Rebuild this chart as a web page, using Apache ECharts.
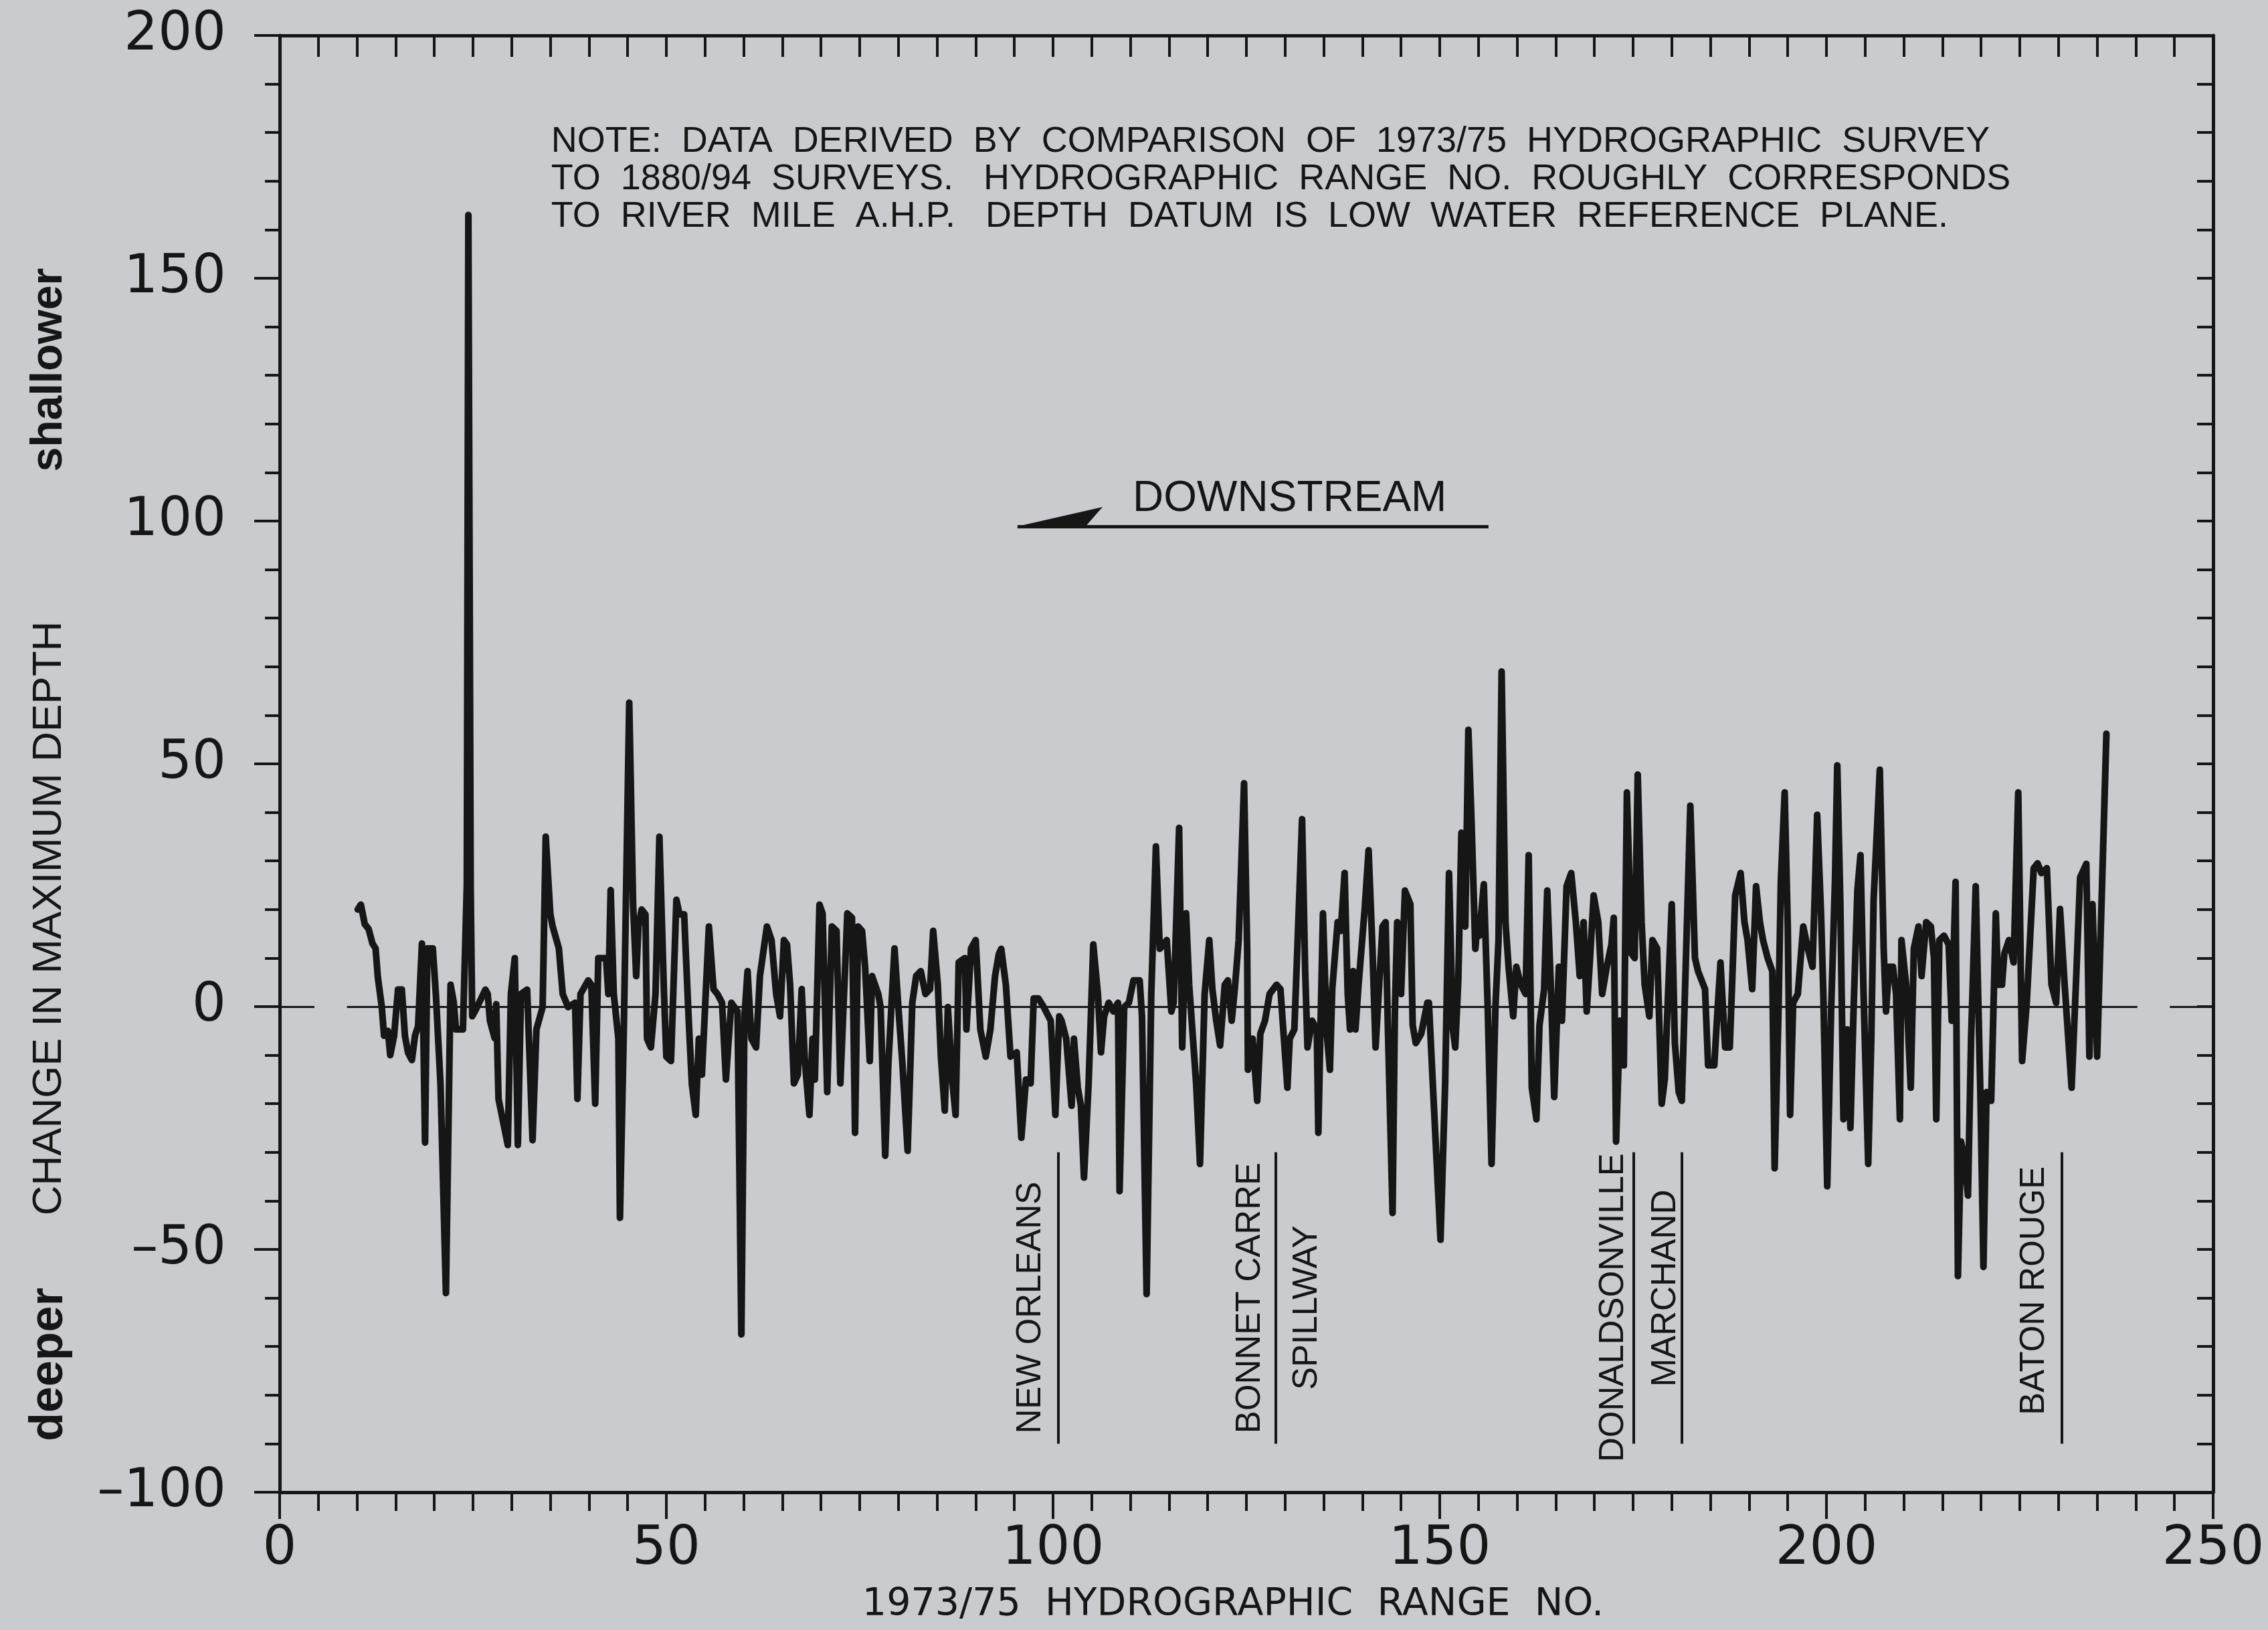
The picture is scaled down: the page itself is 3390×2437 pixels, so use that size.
<!DOCTYPE html>
<html>
<head>
<meta charset="utf-8">
<title>Change in maximum depth, 1973/75 vs 1880/94</title>
<script src="https://cdn.jsdelivr.net/npm/echarts@6/dist/echarts.min.js"></script>
<style>
  html, body { margin: 0; padding: 0; background: #c9cbce; }
  #chart { width: 3390px; height: 2437px; }
</style>
</head>
<body>
<div id="chart"></div>
<script>
// hydrographic range no. (x) and change in maximum depth (y)
const rangeNo = [
  10.1, 10.5, 11.0, 11.5, 12.0, 12.4, 12.7, 13.2, 13.5, 14.0, 14.3, 14.8, 15.3, 15.8, 16.2, 16.6, 17.1, 17.5, 17.9, 18.4,
  18.8, 19.1, 19.8, 20.2, 20.8, 21.5, 22.1, 22.5, 22.8, 23.7, 24.2, 24.4, 24.7, 24.9, 25.4, 26.6, 26.9, 27.2, 27.8, 28.0,
  28.3, 29.5, 29.9, 30.4, 30.8, 31.2, 32.0, 32.7, 33.2, 34.0, 34.4, 35.0, 35.3,
  36.1, 36.6, 37.3, 38.2, 38.5, 38.9, 39.9, 40.3, 40.8, 41.2, 42.2, 42.5, 42.8, 43.2, 43.8, 44.0, 44.5, 45.2, 45.7, 46.1,
  46.4, 46.8, 47.3, 47.5, 48.0, 48.6, 49.1, 49.7, 50.0, 50.6, 51.3, 51.7, 52.3, 52.9, 53.3, 53.8, 54.2, 54.6, 55.5, 56.1,
  56.6, 57.2, 57.7, 58.4, 59.2, 59.7, 60.1, 60.5, 61.0, 61.6, 62.1, 63.0, 63.6, 64.2, 64.7,
  65.2, 65.6, 66.0, 66.5, 67.0, 67.5, 67.9, 68.5, 68.9, 69.2, 69.8, 70.2, 70.8, 71.4, 72.0, 72.5, 73.4, 74.0, 74.4, 74.8,
  75.3, 75.7, 76.3, 76.6, 77.4, 77.7, 78.3, 78.7, 79.5, 80.0, 80.5, 81.2, 81.8, 82.3, 82.9, 83.5, 84.1, 84.5, 85.1, 85.5,
  86.0, 86.4, 87.0, 87.4, 87.8, 88.6, 88.8, 89.4, 90.0, 90.6, 91.3, 91.9, 92.5, 93.0,
  93.3, 93.9, 94.5, 95.3, 95.9, 96.5, 97.1, 97.5, 98.1, 98.8, 99.7, 100.3, 100.8, 101.1, 101.7, 102.4, 102.7, 103.2, 103.6, 104.0,
  104.6, 105.2, 105.8, 106.2, 106.6, 107.2, 107.8, 108.4, 108.6, 109.2, 109.8, 110.4, 111.2, 111.5, 112.1, 112.7, 113.3, 113.8, 114.7, 115.3,
  115.6, 116.3, 116.7, 117.2, 117.6, 118.5, 119.0, 119.6, 120.2, 120.6, 121.1, 121.6,
  122.2, 122.6, 123.1, 123.5, 124.0, 124.7, 125.1, 125.2, 125.8, 126.4, 126.8, 127.4, 128.0, 128.9, 129.4, 130.3, 130.6, 131.2, 131.5, 132.2,
  132.6, 132.9, 133.5, 134.1, 134.3, 134.6, 134.9, 135.4, 135.8, 136.1, 136.8, 137.2, 137.7, 138.1, 138.4, 138.8, 139.1, 139.5, 140.3, 140.8,
  141.3, 141.7, 142.1, 142.6, 143.0, 143.3, 143.9, 144.2, 144.5, 145.0, 145.5, 146.2, 146.5, 146.9, 147.6, 148.4, 148.6, 149.1, 150.1,
  150.7, 151.2, 151.7, 152.0, 152.4, 152.8, 153.3, 153.7, 154.1, 154.6, 154.9, 155.1, 155.7, 156.2, 156.7, 157.2, 157.6, 158.0, 158.5, 158.9,
  159.5, 159.9, 160.5, 161.1, 161.5, 161.9, 162.5, 162.9, 163.5, 163.9, 164.4, 164.8, 165.4, 165.8, 166.4, 167.0, 167.6, 168.1, 168.6, 169.0,
  169.4, 169.9, 170.5, 171.0, 171.6, 172.2, 172.5, 172.8, 173.3, 173.8, 174.2, 174.8, 175.2, 175.6, 176.1, 176.5, 177.1, 177.5, 178.1,
  178.7, 179.1, 179.5, 180.0, 180.4, 180.9, 181.3, 181.7, 182.4, 183.0, 183.4, 184.3, 184.7, 185.5, 185.8, 186.3, 186.9, 187.5, 187.8, 188.2,
  188.9, 189.4, 189.8, 190.4, 190.9, 191.4, 191.8, 192.4, 193.0, 193.3, 193.8, 194.1, 194.6, 195.0, 195.3, 195.7, 196.3, 197.0, 197.6, 198.2,
  198.8, 199.3, 199.6, 200.1, 200.6, 201.1, 201.4, 201.8, 202.2, 202.7, 203.1, 203.5, 204.0, 204.4, 204.8, 205.4, 205.8, 206.1, 206.9, 207.4,
  207.7, 208.1, 208.6, 209.0, 209.5, 209.7, 210.3, 210.9, 211.3, 211.9, 212.3, 212.9, 213.5, 213.9, 214.2, 214.6, 215.2, 215.8, 216.2, 216.7,
  217.0, 217.4, 217.8, 218.3, 218.7, 219.3, 219.9, 220.3, 220.7, 221.3, 221.9, 222.2, 222.7, 223.0, 223.6, 224.2, 224.8, 225.3, 225.9, 226.8,
  227.3, 227.8, 228.5, 229.1, 229.7, 230.2, 230.8, 231.7, 232.3, 232.8, 233.6, 234.0, 234.4, 235.0, 235.4, 236.2
];
const depthChange = [
  20, 21, 17, 16, 13, 12, 6, 0, -6, -5, -10, -6, 3.5, 3.5, -6, -9.5, -11, -6, -4, 13,
  -28, 12, 12, 2.5, -16, -59, 4.5, 1, -4.7, -4.7, 25, 163, 24, -2, -0.5, 3.5, 2.6, -3, -6.5, 0.5,
  -19, -28.5, 2.6, 10, -28.5, 2.6, 3.5, -27.5, -4.7, -0.1, 35, 19, 16.5,
  12, 2.6, -0.1, 0.8, -19, 2.6, 5.4, 4.5, -20, 10, 10, 2.6, 24, 2.6, -6.6, -43.5, -4.7, 62.6, 21, 6.3,
  16.5, 20, 19, -6.6, -8.4, 2.6, 35, 2.6, -10.3, -11.2, 22, 19, 19, -3, -16, -22.3, -6.6, -14, 16.5, 3.6,
  2.6, 0.8, -15, 0.8, -1, -67.5, -2, 7.3, -6.6, -8.4, 6.3, 16.5, 13.7, 2.6, -2,
  13.7, 12.8, 4.5, -15.8, -14, 3.6, -11, -22.3, -6.6, -15, 21, 19.2, -17.6, 16.5, 15.6, -15.8, 19.2, 18.3, -26, 16.5,
  15.6, 8.2, -11.2, 6.3, 2.6, -0.1, -30.7, -12, 12, -0.1, -11.2, -29.7, 0.8, 6.3, 7.3, 2.6, 3.6, 15.6, 4.5, -10.3,
  -21.4, -0.1, -15.8, -22.3, 9.1, 10, -4.7, 12, 13.7, -4.7, -10.3, -4.7, 6.3, 10.9,
  11.9, 4.5, -10.3, -9.4, -27, -15, -15.8, 1.7, 1.7, -0.1, -2.9, -22.3, -2, -2.9, -6.6, -20.4, -6.6, -16.7, -20.4, -35.2,
  -15.8, 12.8, 2.6, -9.4, -2, 0.8, -1, 0.8, -38, -0.1, 0.8, 5.4, 5.4, -2, -59.2, 2.6, 33, 11.9, 13.7, -1,
  0.8, 36.8, -8.4, 19.2, 4.5, -15.8, -32.4, 2.6, 13.7, 3.6, -2.9, -8,
  4.5, 5.4, -2.9, 3.6, 13.7, 46, 11.9, -13, -6.6, -19.4, -5.6, -2.9, 2.6, 4.5, 3.6, -16.7, -6.6, -4.7, 8.2, 38.6,
  7.3, -8.4, -2.9, -4.7, -26, -2.9, 19.2, -5.6, -13, 3.6, 17.4, 15.6, 27.5, 2.6, -4.7, 7.3, -4.7, 4.5, 20.2, 32.2,
  11.9, -8.4, 2.6, 16.5, 17.4, -4.7, -42.5, -1, 17.4, 2.6, 23.9, 21.1, -3.8, -7.5, -5.6, 0.8, 0.8, -15.8, -48,
  -15.8, 27.5, -4.7, -8.4, 5.4, 35.8, 16.5, 57, 38.6, 11.9, 17.4, 14.6, 25.2, -0.1, -32.4, -0.1, 13.7, 69, 17.4, 8.2,
  -2, 8.2, 4.5, 2.6, 31.2, -16.7, -23.2, -3.8, 3.6, 23.9, 2.6, -18.6, 8.2, -2.9, 24.8, 27.5, 17.4, 6.3, 17.4, -1,
  9.1, 22.9, 17.4, 2.6, 8.2, 12.8, 18.3, -27.8, -2.9, -12.1, 44.1, 10.9, 10, 47.8, 17.4, 4.5, -2, 13.7, 12,
  -20, -14.9, 1.7, 21.1, -7.5, -17.6, -19.4, 2.6, 41.4, 10, 7.3, 3.6, -12.1, -12.1, -3.8, 9.1, -8.4, -8.4, 4.5, 22.9,
  27.5, 17.4, 13.7, 3.6, 24.8, 17.4, 13.7, 10, 7.3, -33.3, -1, 25.7, 44.1, 16.5, -22.3, 0.8, 2.6, 16.5, 11.9, 8.2,
  39.5, 19.2, 2.6, -37, -1, 25.7, 49.7, 21.1, -23.2, -4.7, -25, -1, 23.9, 31.2, 2.6, -32.4, -6.6, 22, 48.8, 12,
  -1, 8.2, 8.2, 2.6, -23.2, 13.7, 4.5, -16.7, 11.9, 16.5, 6.3, 17.4, 16.5, 10, -23.2, 13.7, 14.6, 12.8, -2.9, 25.7,
  -55.5, -27.8, -30.7, -38.9, -6.6, 24.8, -17.6, -53.6, -17.6, -19.4, 19.2, 4.5, 4.5, 10.9, 13.7, 9.1, 44.1, -11.2, 0.8, 28.5,
  29.5, 27.5, 28.5, 4.5, 0.8, 20.1, 4.5, -16.7, 6.3, 26.6, 29.4, -10.3, 21.1, -10.3, 11.9, 56.2
];

// reference marks along the river
const placeNames = ['NEW ORLEANS', 'BONNET CARRE', 'SPILLWAY', 'DONALDSONVILLE', 'MARCHAND', 'BATON ROUGE'];
const placeTextAt = [97.1, 125.5, 132.9, 172.5, 179.2, 226.9];
const placeTextMid = [-62, -60, -62, -62, -58, -58.5];
const placeLineAt = [100.7, 128.8, 175.1, 181.3, 230.4];

const noteLines = [
  'NOTE:  DATA  DERIVED  BY  COMPARISON  OF  1973/75  HYDROGRAPHIC  SURVEY',
  'TO  1880/94  SURVEYS.   HYDROGRAPHIC  RANGE  NO.  ROUGHLY  CORRESPONDS',
  'TO  RIVER  MILE  A.H.P.   DEPTH  DATUM  IS  LOW  WATER  REFERENCE  PLANE.'
];

const ink = '#161616';
const paper = '#c9cbce';
const sans = 'Liberation Sans';
const wide = 'DejaVu Sans';

const chart = echarts.init(document.getElementById('chart'));
const points = rangeNo.map((x, i) => [x, depthChange[i]]);

const tickStyle = { color: ink, width: 4 };

// thin zero line, its stubs at the frame, the place markers and the arrow shaft
const refLines = [
  [{ coord: [8.7, 0] }, { coord: [240.2, 0] }],
  [{ coord: [0, 0] }, { coord: [4.5, 0] }],
  [{ coord: [244.4, 0] }, { coord: [250, 0] }],
  [{ coord: [95.4, 98.9], lineStyle: { width: 5 } }, { coord: [156.3, 98.9] }]
];
placeLineAt.forEach(x => {
  refLines.push([{ coord: [x, -30], lineStyle: { width: 4 } }, { coord: [x, -90] }]);
});

const option = {
  backgroundColor: paper,
  animation: false,
  grid: { left: 418, right: 82, top: 53, bottom: 206 },
  xAxis: [
    {
      type: 'value', position: 'bottom', min: 0, max: 250, interval: 50,
      axisLine: { show: true, onZero: false, lineStyle: { color: ink, width: 5 } },
      axisTick: { show: true, length: 40, lineStyle: tickStyle },
      minorTick: { show: true, splitNumber: 10, length: 28, lineStyle: tickStyle },
      axisLabel: { margin: 46, fontSize: 80, color: ink, fontFamily: wide },
      splitLine: { show: false }
    },
    {
      type: 'value', position: 'top', min: 0, max: 250, interval: 5,
      axisLine: { show: true, onZero: false, lineStyle: { color: ink, width: 5 } },
      axisTick: { show: true, inside: true, length: 32, lineStyle: tickStyle },
      axisLabel: { show: false },
      splitLine: { show: false }
    }
  ],
  yAxis: [
    {
      type: 'value', position: 'left', min: -100, max: 200, interval: 50,
      axisLine: { show: true, onZero: false, lineStyle: { color: ink, width: 5 } },
      axisTick: { show: true, length: 38, lineStyle: tickStyle },
      minorTick: { show: true, splitNumber: 5, length: 22, lineStyle: tickStyle },
      axisLabel: {
        margin: 80, fontSize: 80, color: ink, fontFamily: wide,
        formatter: v => (v < 0 ? '\u2013' + Math.abs(v) : String(v))
      },
      splitLine: { show: false }
    },
    {
      type: 'value', position: 'right', min: -100, max: 200, interval: 10,
      axisLine: { show: true, onZero: false, lineStyle: { color: ink, width: 5 } },
      axisTick: { show: true, inside: true, length: 24, lineStyle: tickStyle },
      axisLabel: { show: false },
      splitLine: { show: false }
    }
  ],
  series: [
    {
      type: 'line',
      data: points,
      symbol: 'none',
      lineStyle: { color: ink, width: 10, join: 'round', cap: 'round' },
      markLine: {
        silent: true,
        symbol: 'none',
        label: { show: false },
        lineStyle: { color: ink, width: 3, type: 'solid' },
        data: refLines
      }
    }
  ]
};

chart.setOption(option);

// annotations, placed through the axes
const px = (x, y) => chart.convertToPixel({ xAxisIndex: 0, yAxisIndex: 0 }, [x, y]);
const graphics = [];

noteLines.forEach((t, i) => {
  const p = px(35.1, 178.1 - i * 7.7);
  graphics.push({
    type: 'text', x: p[0], y: p[1],
    style: { text: t, fill: ink, fontSize: 54, fontFamily: sans, align: 'left', verticalAlign: 'middle' }
  });
});

const dp = px(130.6, 104.5);
graphics.push({
  type: 'text', x: dp[0], y: dp[1],
  style: { text: 'DOWNSTREAM', fill: ink, fontSize: 64, fontFamily: sans, align: 'center', verticalAlign: 'middle' }
});
graphics.push({
  type: 'polygon',
  shape: { points: [px(95.4, 98.9), px(106.4, 102.9), px(104.2, 98.9)] },
  style: { fill: ink }
});

placeNames.forEach((t, i) => {
  const p = px(placeTextAt[i], placeTextMid[i]);
  graphics.push({
    type: 'text', x: p[0], y: p[1], rotation: Math.PI / 2,
    style: { text: t, fill: ink, fontSize: 51, fontFamily: sans, align: 'center', verticalAlign: 'middle' }
  });
});

// axis titles
graphics.push({
  type: 'text', x: 1843, y: 2400,
  style: { text: '1973/75  HYDROGRAPHIC  RANGE  NO.', fill: ink, fontSize: 57, fontFamily: wide, align: 'center', verticalAlign: 'middle' }
});
[
  { text: 'shallower', y: 553, weight: 'bold', size: 66 },
  { text: 'CHANGE IN MAXIMUM DEPTH', y: 1373, weight: 'normal', size: 62 },
  { text: 'deeper', y: 2040, weight: 'bold', size: 70 }
].forEach(a => {
  graphics.push({
    type: 'text', x: 74, y: a.y, rotation: Math.PI / 2,
    style: { text: a.text, fill: ink, fontSize: a.size, fontWeight: a.weight, fontFamily: sans, align: 'center', verticalAlign: 'middle' }
  });
});

chart.setOption({ graphic: graphics });
</script>
</body>
</html>
